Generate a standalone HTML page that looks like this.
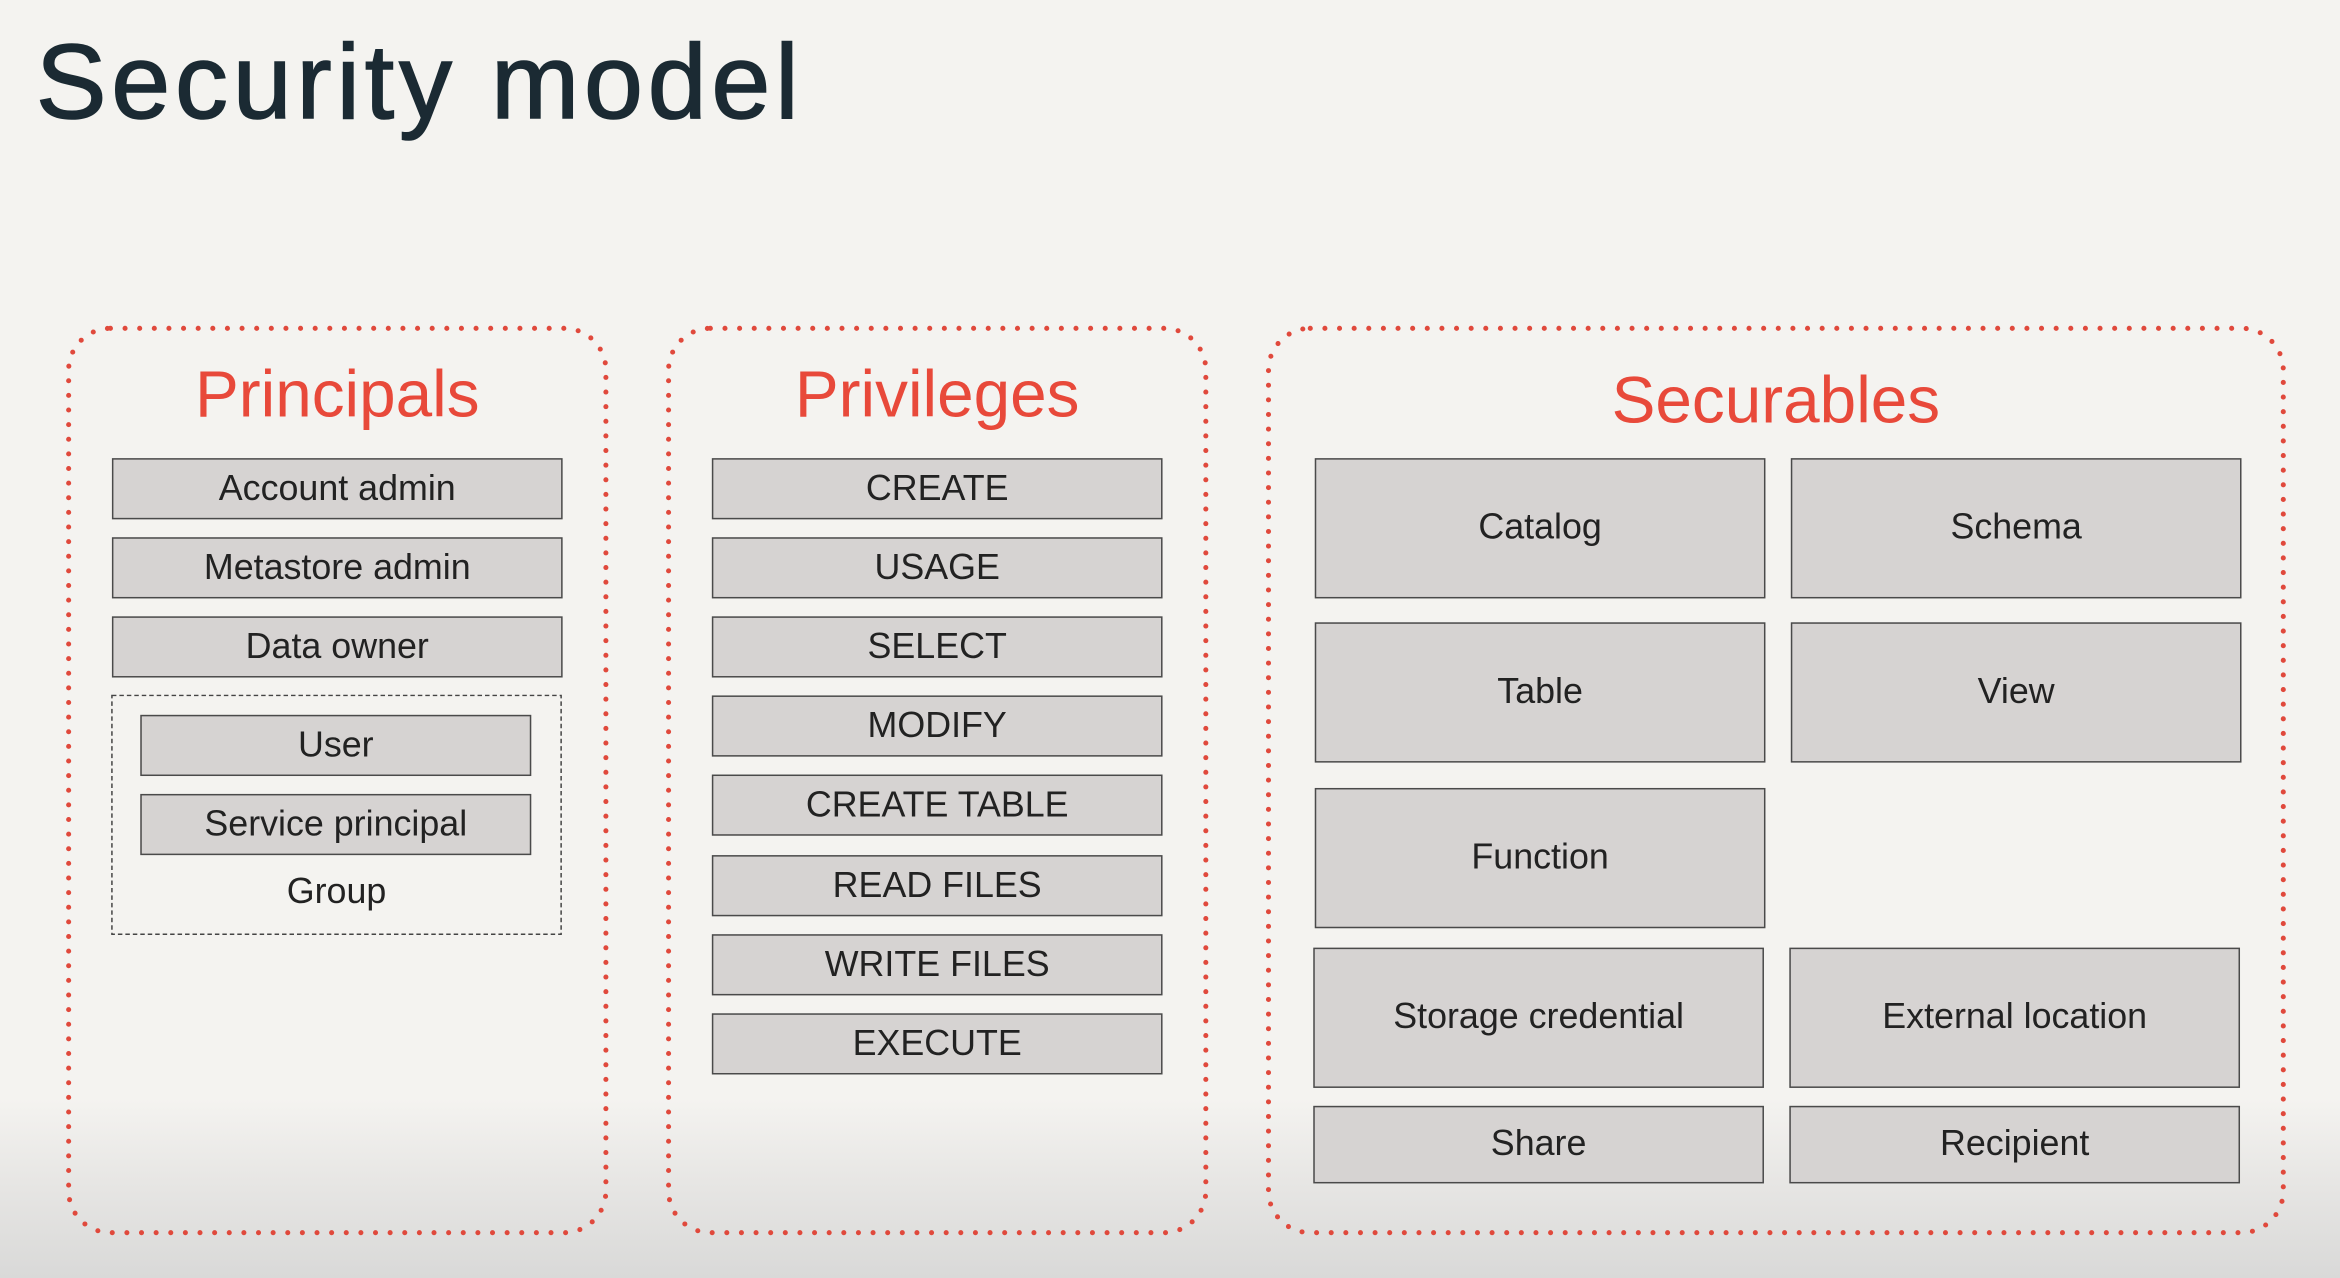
<!DOCTYPE html>
<html><head><meta charset="utf-8"><style>
html,body{margin:0;padding:0;}
body{width:2340px;height:1278px;overflow:hidden;background:#f4f3f0;}
#bg{position:absolute;left:0;top:0;width:2340px;height:1278px;background:linear-gradient(to bottom,#f4f3f0 0%,#f4f3f0 86%,#e6e5e3 93%,#d9d9d8 100%);}
#s{position:absolute;left:0;top:0;width:1568px;height:856px;transform:scale(1.49235);transform-origin:0 0;font-family:"Liberation Sans","DejaVu Sans",sans-serif;}
.t{position:absolute;left:24px;top:15px;font-size:71px;color:#1b2a33;letter-spacing:3.2px;-webkit-text-stroke:1px #1b2a33;}
.h{position:absolute;font-size:44px;color:#e8493a;text-align:center;}
.b{position:absolute;background:#d6d3d2;border:1.3px solid #4a4a4a;box-sizing:border-box;display:flex;align-items:center;justify-content:center;font-size:24px;color:#222;}
</style></head><body><div id="bg"></div>
<div id="s">
<div class="t">Security model</div>
<svg width="1568" height="856" style="position:absolute;left:0;top:0">
<g fill="none" stroke="#e0493c" stroke-width="3.4" stroke-linecap="round" stroke-dasharray="0 9.8">
<rect x="46" y="220" width="360" height="606" rx="28"/>
<rect x="448" y="220" width="360" height="606" rx="28"/>
<rect x="850" y="220" width="680" height="606" rx="28"/>
</g>
<rect x="75" y="466" width="301" height="160" fill="none" stroke="#444" stroke-width="1" stroke-dasharray="3 2"/>
</svg>
<div class="h" style="left:46px;width:360px;top:240px">Principals</div>
<div class="h" style="left:448px;width:360px;top:240px">Privileges</div>
<div class="h" style="left:850px;width:680px;top:244px">Securables</div>

<div class="b" style="left:75px;top:307px;width:302px;height:41px">Account admin</div>
<div class="b" style="left:75px;top:360px;width:302px;height:41px">Metastore admin</div>
<div class="b" style="left:75px;top:413px;width:302px;height:41px">Data owner</div>
<div class="b" style="left:94px;top:479px;width:262px;height:41px">User</div>
<div class="b" style="left:94px;top:532px;width:262px;height:41px">Service principal</div>
<div style="position:absolute;left:75px;width:301px;top:584px;text-align:center;font-size:24px;color:#222">Group</div>

<div class="b" style="left:477px;top:307px;width:302px;height:41px">CREATE</div>
<div class="b" style="left:477px;top:360px;width:302px;height:41px">USAGE</div>
<div class="b" style="left:477px;top:413px;width:302px;height:41px">SELECT</div>
<div class="b" style="left:477px;top:466px;width:302px;height:41px">MODIFY</div>
<div class="b" style="left:477px;top:519px;width:302px;height:41px">CREATE TABLE</div>
<div class="b" style="left:477px;top:573px;width:302px;height:41px">READ FILES</div>
<div class="b" style="left:477px;top:626px;width:302px;height:41px">WRITE FILES</div>
<div class="b" style="left:477px;top:679px;width:302px;height:41px">EXECUTE</div>

<div class="b" style="left:881px;top:307px;width:302px;height:94px">Catalog</div>
<div class="b" style="left:1200px;top:307px;width:302px;height:94px">Schema</div>
<div class="b" style="left:881px;top:417px;width:302px;height:94px">Table</div>
<div class="b" style="left:1200px;top:417px;width:302px;height:94px">View</div>
<div class="b" style="left:881px;top:528px;width:302px;height:94px">Function</div>
<div class="b" style="left:880px;top:635px;width:302px;height:94px">Storage credential</div>
<div class="b" style="left:1199px;top:635px;width:302px;height:94px">External location</div>
<div class="b" style="left:880px;top:741px;width:302px;height:52px">Share</div>
<div class="b" style="left:1199px;top:741px;width:302px;height:52px">Recipient</div>
</div>
</body></html>
